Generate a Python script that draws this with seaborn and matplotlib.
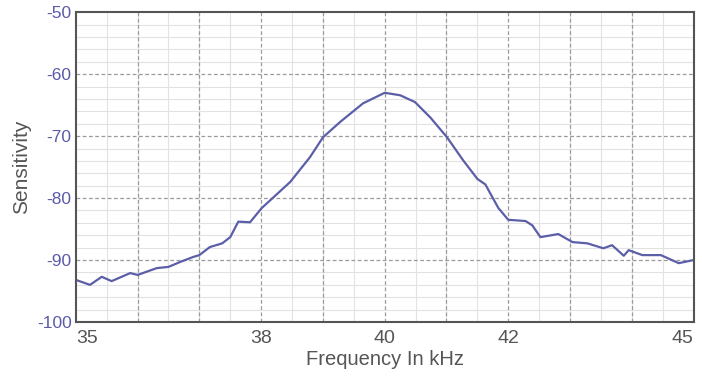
import numpy as np
import pandas as pd
import matplotlib
matplotlib.use("Agg")
import matplotlib.pyplot as plt
import seaborn as sns
from matplotlib.ticker import MultipleLocator, FixedLocator

# values
freq = [35.0, 35.23, 35.42, 35.58, 35.88, 36.0, 36.31, 36.5, 36.69, 36.9, 37.0,
        37.17, 37.37, 37.5, 37.63, 37.82, 38.01, 38.47, 38.79, 39.0, 39.28, 39.65,
        40.0, 40.25, 40.49, 40.74, 41.01, 41.27, 41.5, 41.63, 41.74, 41.84, 42.0,
        42.28, 42.39, 42.52, 42.81, 43.04, 43.28, 43.54, 43.68, 43.87, 43.95,
        44.17, 44.47, 44.76, 45.0]
sens = [-93.2, -94.0, -92.7, -93.4, -92.1, -92.4, -91.3, -91.1, -90.3, -89.5, -89.2,
        -87.9, -87.3, -86.3, -83.8, -83.9, -81.6, -77.4, -73.4, -70.2, -67.7, -64.7,
        -63.0, -63.4, -64.5, -67.0, -70.2, -73.9, -76.9, -77.8, -79.8, -81.6, -83.5,
        -83.7, -84.4, -86.3, -85.8, -87.1, -87.3, -88.1, -87.6, -89.3, -88.4,
        -89.2, -89.2, -90.5, -90.0]
xticks = [35, 38, 40, 42, 45]
yticks = [-100, -90, -80, -70, -60, -50]

df = pd.DataFrame({'freq': freq, 'sens': sens})

sns.set_style("white")
plt.rcParams['font.family'] = ['Liberation Sans', 'DejaVu Sans']
plt.rcParams['axes.unicode_minus'] = False

fig, ax = plt.subplots(figsize=(7.02, 3.82), dpi=100)
fig.subplots_adjust(left=0.108, right=0.988, top=0.968, bottom=0.157)

sns.lineplot(data=df, x='freq', y='sens', color='#5b5fa8', linewidth=1.6, ax=ax)

ax.set_xlim(35, 45)
ax.set_ylim(-100, -50)
ax.xaxis.set_major_locator(FixedLocator(xticks))
ax.yaxis.set_major_locator(FixedLocator(yticks))
ax.xaxis.set_minor_locator(MultipleLocator(0.5))
ax.yaxis.set_minor_locator(MultipleLocator(2))

# light minor grid + dashed grid every 1 kHz / 10 units
ax.grid(which='minor', color='#e2e2e2', linewidth=0.8, linestyle='-')
for xv in np.arange(36, 45, 1):
    ax.axvline(xv, color='#9a9a9a', linestyle=(0, (3, 2)), linewidth=0.9, zorder=1)
for yv in np.arange(-90, -50, 10):
    ax.axhline(yv, color='#9a9a9a', linestyle=(0, (3, 2)), linewidth=0.9, zorder=1)
ax.set_axisbelow(True)

for s in ax.spines.values():
    s.set_color('#555555')
    s.set_linewidth(1.5)

ax.tick_params(which='both', length=0)
ax.tick_params(axis='x', labelsize=14, colors='#555555', pad=6)
ax.tick_params(axis='y', labelsize=12.5, colors='#5a5aa8', pad=3)
xl = ax.get_xticklabels()
xl[0].set_horizontalalignment('left')
xl[-1].set_horizontalalignment('right')

ax.set_xlabel('Frequency In kHz', fontsize=14.5, color='#555555', labelpad=2)
ax.set_ylabel('Sensitivity', fontsize=15, color='#555555', labelpad=4)

fig.savefig('out.png', dpi=100)
